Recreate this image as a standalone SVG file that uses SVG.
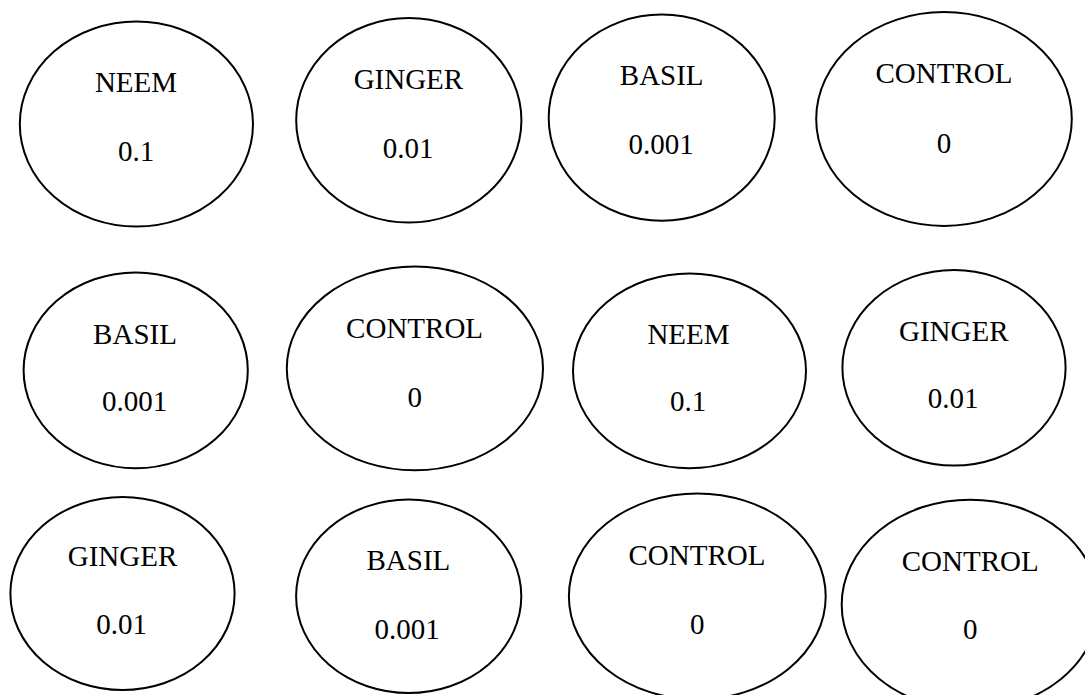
<svg xmlns="http://www.w3.org/2000/svg" width="1085" height="695" viewBox="0 0 1085 695">
<style>
.n ellipse{fill:#fff;stroke:#000;stroke-width:2}
.n text{font-family:"Liberation Serif","Times New Roman",serif;font-size:29px;fill:#000;text-anchor:middle}
</style>
<rect width="1085" height="695" fill="#fff"/>
<g id="connectors"/>
<g id="r1-neem" class="n"><ellipse cx="136.4" cy="124.1" rx="116.6" ry="102.5"/><text x="136" y="92">NEEM</text><text x="136" y="160.6">0.1</text></g>
<g id="r1-ginger" class="n"><ellipse cx="408.8" cy="120.3" rx="112.6" ry="102.2"/><text x="408.4" y="88.6">GINGER</text><text x="408" y="158.2">0.01</text></g>
<g id="r1-basil" class="n"><ellipse cx="661.7" cy="117.7" rx="113" ry="103.1"/><text x="661.7" y="85.2">BASIL</text><text x="661" y="154">0.001</text></g>
<g id="r1-control" class="n"><ellipse cx="944" cy="119" rx="127.8" ry="106.9"/><text x="944" y="83.4">CONTROL</text><text x="944" y="152.9">0</text></g>
<g id="r2-basil" class="n"><ellipse cx="135.7" cy="370.3" rx="112.1" ry="97.9"/><text x="135" y="344">BASIL</text><text x="134.5" y="411.4">0.001</text></g>
<g id="r2-control" class="n"><ellipse cx="414.9" cy="368.4" rx="128.1" ry="101.9"/><text x="414.6" y="338.4">CONTROL</text><text x="414.7" y="406.6">0</text></g>
<g id="r2-neem" class="n"><ellipse cx="689.5" cy="370.8" rx="116.5" ry="97.4"/><text x="688.5" y="344">NEEM</text><text x="688" y="411.4">0.1</text></g>
<g id="r2-ginger" class="n"><ellipse cx="954" cy="367.8" rx="111.6" ry="97.8"/><text x="953.8" y="340.5">GINGER</text><text x="953" y="408.3">0.01</text></g>
<g id="r3-ginger" class="n"><ellipse cx="122.5" cy="593.5" rx="112.1" ry="96.5"/><text x="122.5" y="566.4">GINGER</text><text x="121.7" y="634.2">0.01</text></g>
<g id="r3-basil" class="n"><ellipse cx="408.7" cy="596.3" rx="112.6" ry="96.7"/><text x="408.4" y="569.9">BASIL</text><text x="407" y="638.7">0.001</text></g>
<g id="r3-control" class="n"><ellipse cx="697.3" cy="596.4" rx="128.4" ry="103"/><text x="697" y="564.7">CONTROL</text><text x="697.2" y="633.5">0</text></g>
<g id="r3-control2" class="n"><ellipse cx="970.2" cy="604.7" rx="128.5" ry="105"/><text x="970.2" y="571">CONTROL</text><text x="970.3" y="639.4">0</text></g>
</svg>
